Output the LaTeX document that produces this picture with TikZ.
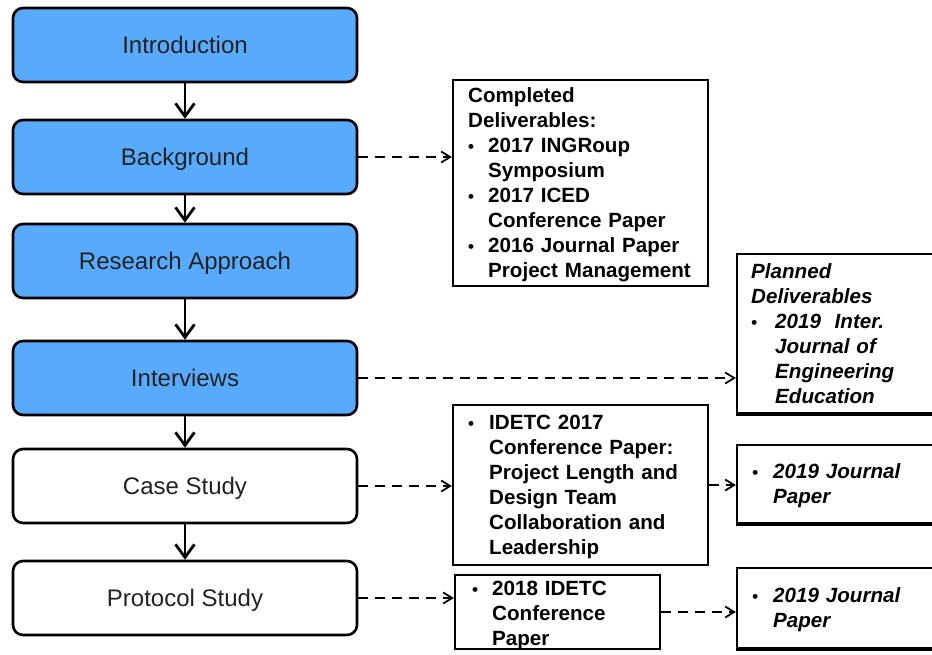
\documentclass[tikz,border=0pt]{standalone}
\usepackage{fontspec}
\setmainfont{Liberation Sans}
\usetikzlibrary{arrows.meta}
\definecolor{stageblue}{RGB}{88,170,252}
\definecolor{stageink}{RGB}{34,34,34}

% bullet and hanging indent for the deliverable lists
\newcommand{\bul}[1][20pt]{\makebox[#1][l]{\fontsize{17}{17}\selectfont\textbullet}}
\newcommand{\ind}[1][20pt]{\hspace*{#1}}

\tikzset{
  stage/.style={draw=black, line width=2.6pt, rounded corners=10pt,
    minimum width=344pt, minimum height=74pt, inner sep=0pt,
    font=\fontsize{24}{28}\selectfont, text height=17.2pt, text depth=0pt,
    text=stageink},
  done/.style={stage, fill=stageblue},
  todo/.style={stage, fill=white},
  outbox/.style={draw=black, line width=2.2pt, fill=white, inner sep=0pt},
  boxtext/.style={anchor=base west, inner sep=0pt, text width=300pt,
    align=left, font=\bfseries\fontsize{20.6}{25}\selectfont},
  plantext/.style={boxtext, font=\bfseries\itshape\fontsize{20.6}{25}\selectfont},
  flow/.style={line width=2.8pt, -{Straight Barb[length=13pt, width=19pt]}},
  link/.style={line width=1.8pt, dash pattern=on 10pt off 7pt,
    -{Straight Barb[length=9pt, width=11pt]}},
}

\begin{document}
\begin{tikzpicture}[x=1pt, y=-1pt]
\useasboundingbox (0,0) rectangle (932,654);

% research stages
\node[done] (intro) at (185,45)  {Introduction};
\node[done] (bg)    at (185,157) {Background};
\node[done] (ra)    at (185,261) {Research Approach};
\node[done] (iv)    at (185,378) {Interviews};
\node[todo] (cs)    at (185,486) {Case Study};
\node[todo] (ps)    at (185,598) {Protocol Study};

% deliverable boxes
\node[outbox, minimum width=255pt, minimum height=206pt] (comp) at (580.5,183) {};
\node[outbox, minimum width=223pt, minimum height=159pt] (plan) at (848.5,333.5) {};
\node[outbox, minimum width=255pt, minimum height=160pt] (i17)  at (580.5,485) {};
\node[outbox, minimum width=223pt, minimum height=78pt]  (j1)   at (848.5,484) {};
\node[outbox, minimum width=205pt, minimum height=74pt]  (i18)  at (557.5,612) {};
\node[outbox, minimum width=223pt, minimum height=80pt]  (j2)   at (848.5,608) {};

% heavier lower edges on the planned boxes
\draw[line width=3.6pt] (plan.south west) -- (plan.south east);
\draw[line width=3.6pt] (j1.south west) -- (j1.south east);
\draw[line width=3.6pt] (j2.south west) -- (j2.south east);

% box contents
\node[boxtext] (compt) at (468,102) {Completed\\Deliverables:\\
  \bul 2017 INGRoup\\\ind Symposium\\
  \bul 2017 ICED\\\ind Conference Paper\\
  \bul 2016 Journal Paper\\\ind Project Management};
\node[plantext] (plant) at (751,278) {Planned\\Deliverables\\
  \bul[24pt]2019\ \ Inter.\\\ind[24pt]Journal of\\
  \ind[24pt]Engineering\\\ind[24pt]Education};
\node[boxtext] (i17t) at (468,429) {\bul[21pt]IDETC 2017\\
  \ind[21pt]Conference Paper:\\\ind[21pt]Project Length and\\
  \ind[21pt]Design Team\\\ind[21pt]Collaboration and\\\ind[21pt]Leadership};
\node[boxtext] (i18t) at (472,595) {\bul 2018 IDETC\\\ind Conference\\\ind Paper};
\node[plantext] (j1t) at (752,478) {\bul[21pt]2019 Journal\\\ind[21pt]Paper};
\node[plantext] (j2t) at (752,602) {\bul[21pt]2019 Journal\\\ind[21pt]Paper};

% stage sequence
\draw[flow] (intro) -- (bg);
\draw[flow] (bg) -- (ra);
\draw[flow] (ra) -- (iv);
\draw[flow] (iv) -- (cs);
\draw[flow] (cs) -- (ps);

% stages to deliverables
\draw[link] (bg.east) -- (bg.east -| comp.west);
\draw[link] (iv.east) -- (iv.east -| plan.west);
\draw[link] (cs.east) -- (cs.east -| i17.west);
\draw[link] (i17.east) -- (i17.east -| j1.west);
\draw[link] (ps.east) -- (ps.east -| i18.west);
\draw[link] (i18.east) -- (i18.east -| j2.west);
\end{tikzpicture}
\end{document}
